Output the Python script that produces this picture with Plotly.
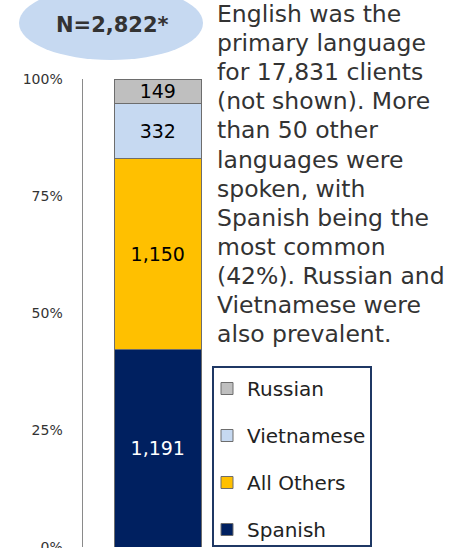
import plotly.graph_objects as go

# Primary language of non-English-speaking clients (counts)
languages = ["Spanish", "All Others", "Vietnamese", "Russian"]
clients = [1191, 1150, 332, 149]
colors = ["#002060", "#FFC000", "#C6D9F1", "#BFBFBF"]
label_colors = ["#FFFFFF", "#000000", "#000000", "#000000"]
legend_ranks = [4, 3, 2, 1]
tick_values = [0, 25, 50, 75, 100]
tick_labels = ["0%", "25%", "50%", "75%", "100%"]
total_label = "N=2,822*"
note_lines = [
    "English was the",
    "primary language",
    "for 17,831 clients",
    "(not shown). More",
    "than 50 other",
    "languages were",
    "spoken, with",
    "Spanish being the",
    "most common",
    "(42%). Russian and",
    "Vietnamese were",
    "also prevalent.",
]

W, H = 473, 548
FONT = "DejaVu Sans"


def px_x(x):
    return x / W


def px_y(y):
    return 1 - y / H


fig = go.Figure()
for lang, n, col, tcol, rank in zip(languages, clients, colors, label_colors, legend_ranks):
    fig.add_trace(go.Bar(
        x=["All"],
        y=[n],
        name=lang,
        legendgroup=lang,
        legendrank=rank,
        marker=dict(color=col, line=dict(color="#6d6d6d", width=1)),
        text=[f"{n:,}"],
        textposition="inside",
        insidetextanchor="middle",
        textangle=0,
        constraintext="none",
        textfont=dict(family=FONT, size=19, color=tcol),
        hoverinfo="skip",
    ))

fig.update_layout(
    width=W,
    height=H,
    margin=dict(l=0, r=0, t=0, b=0, autoexpand=False),
    paper_bgcolor="white",
    plot_bgcolor="white",
    barmode="stack",
    barnorm="percent",
    bargap=0.42,
    xaxis=dict(
        domain=[px_x(82.5), px_x(233)],
        range=[-0.5, 0.5],
        visible=False,
        automargin=False,
    ),
    yaxis=dict(
        domain=[px_y(547), px_y(79)],
        range=[0, 100],
        tickmode="array",
        tickvals=tick_values,
        ticktext=tick_labels,
        showgrid=False,
        zeroline=False,
        showline=True,
        linecolor="#8a8a8a",
        linewidth=1,
        ticks="",
        ticklabelstandoff=16,
        ticklabeloverflow="allow",
        automargin=False,
        tickfont=dict(family=FONT, size=14, color="#333333"),
    ),
    legend=dict(
        x=px_x(205),
        y=px_y(367),
        xanchor="left",
        yanchor="top",
        traceorder="grouped",
        tracegroupgap=18,
        bordercolor="rgba(0,0,0,0)",
        borderwidth=2,
        bgcolor="rgba(0,0,0,0)",
        font=dict(family=FONT, size=20, color="#222222"),
        itemclick=False,
        itemdoubleclick=False,
    ),
    showlegend=True,
)

# Legend frame
fig.add_shape(
    type="rect",
    xref="paper", yref="paper",
    x0=px_x(213), x1=px_x(371),
    y0=px_y(546), y1=px_y(367),
    line=dict(color="#1F3864", width=2),
    fillcolor="rgba(0,0,0,0)",
    layer="above",
)

# Sample size badge
fig.add_shape(
    type="circle",
    xref="paper", yref="paper",
    x0=px_x(19), x1=px_x(203),
    y0=px_y(60), y1=px_y(-14),
    fillcolor="#C6D9F1",
    line=dict(width=0),
    layer="below",
)
fig.add_annotation(
    xref="paper", yref="paper",
    x=px_x(112), y=px_y(25),
    xanchor="center", yanchor="middle",
    text=f"<b>{total_label}</b>",
    showarrow=False,
    font=dict(family=FONT, size=21, color="#333333"),
)

# Explanatory note, one line per annotation at a fixed leading
line_step = 29.1
first_center = 14
for i, line in enumerate(note_lines):
    fig.add_annotation(
        xref="paper", yref="paper",
        x=px_x(216), y=px_y(first_center + i * line_step),
        xanchor="left", yanchor="middle",
        text=line,
        showarrow=False,
        borderpad=0,
        font=dict(family=FONT, size=23.5, color="#333333"),
    )

fig.write_html("out.html")
